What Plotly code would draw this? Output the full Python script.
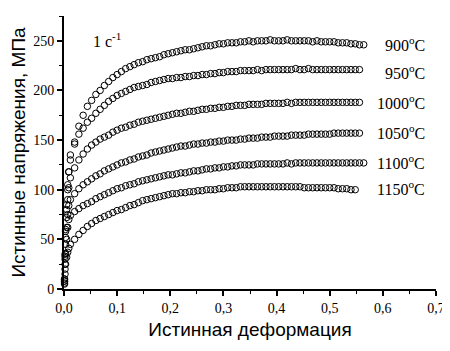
import plotly.graph_objects as go

# ---- data ----
strain = [0.012, 0.020, 0.028, 0.036, 0.044, 0.052, 0.060, 0.068, 0.076, 0.084,
          0.092, 0.100, 0.108, 0.116, 0.124, 0.132, 0.140, 0.148, 0.156, 0.164,
          0.172, 0.180, 0.188, 0.196, 0.204, 0.212, 0.220, 0.228, 0.236, 0.244,
          0.252, 0.260, 0.268, 0.276, 0.284, 0.292, 0.300, 0.308, 0.316, 0.324,
          0.332, 0.340, 0.348, 0.356, 0.364, 0.372, 0.380, 0.388, 0.396, 0.404,
          0.412, 0.420, 0.428, 0.436, 0.444, 0.452, 0.460, 0.468, 0.476, 0.484,
          0.492, 0.500, 0.508, 0.516, 0.524, 0.532, 0.540, 0.548, 0.556, 0.564]

start_strain = [0.001, 0.002, 0.003, 0.005, 0.007, 0.009]

start_900 = [10, 35, 60, 85, 105, 118]
start_950 = [10, 33, 58, 80, 100, 118]
start_1000 = [8, 30, 52, 72, 90, 102]
start_1050 = [8, 25, 45, 62, 75, 84]
start_1100 = [6, 20, 36, 50, 62, 70]
start_1150 = [5, 15, 25, 32, 37, 41]

stress_900 = [130, 148, 164, 175, 184, 190, 196, 200, 205, 209,
              213, 216, 219, 222, 224, 226, 228, 229, 231, 232,
              233, 234, 236, 237, 238, 239, 240, 241, 241, 242,
              243, 244, 245, 245, 246, 247, 247, 248, 248, 248,
              249, 249, 250, 249, 250, 250, 250, 251, 250, 250,
              250, 251, 250, 250, 250, 250, 250, 249, 250, 249,
              249, 249, 249, 248, 248, 248, 247, 247, 246, 246]
stress_950 = [135, 146, 156, 162, 168, 172, 177, 181, 185, 189,
              192, 195, 197, 199, 201, 203, 204, 205, 206, 208,
              209, 210, 211, 212, 212, 213, 213, 214, 214, 215,
              215, 216, 216, 217, 217, 218, 218, 219, 219, 219,
              220, 220, 220, 220, 221, 220, 221, 221, 221, 221,
              221, 221, 221, 222, 221, 221, 222, 221, 221, 221,
              221, 221, 221, 221, 221, 221, 221, 221, 221, None]
stress_1000 = [112, 122, 130, 136, 141, 145, 148, 151, 153, 155,
               158, 160, 162, 163, 165, 166, 168, 169, 170, 171,
               172, 173, 174, 175, 176, 177, 177, 178, 179, 179,
               180, 181, 181, 182, 182, 183, 183, 184, 184, 185,
               185, 185, 186, 186, 186, 186, 187, 187, 187, 187,
               187, 188, 187, 188, 188, 188, 188, 188, 188, 188,
               188, 188, 188, 188, 188, 188, 188, 188, 188, None]
stress_1050 = [90, 96, 101, 105, 108, 111, 114, 116, 119, 121,
               123, 125, 127, 128, 130, 131, 133, 134, 135, 137,
               138, 139, 140, 141, 142, 143, 144, 144, 145, 146,
               146, 147, 147, 148, 148, 149, 149, 150, 150, 150,
               151, 151, 152, 152, 152, 153, 153, 153, 154, 154,
               154, 154, 155, 155, 155, 155, 156, 156, 156, 156,
               156, 156, 157, 157, 157, 157, 157, 157, 157, None]
stress_1100 = [74, 78, 81, 84, 86, 88, 91, 93, 95, 97,
               99, 101, 102, 104, 105, 106, 108, 109, 110, 111,
               112, 113, 114, 115, 115, 116, 117, 117, 118, 119,
               119, 120, 121, 121, 122, 122, 123, 123, 124, 124,
               125, 125, 125, 125, 126, 126, 126, 126, 126, 126,
               126, 127, 126, 127, 127, 127, 127, 127, 127, 127,
               127, 127, 127, 127, 127, 127, 127, 127, 127, 127]
stress_1150 = [45, 50, 55, 59, 63, 66, 69, 71, 73, 75,
               77, 79, 80, 82, 84, 85, 87, 89, 90, 91,
               92, 93, 94, 95, 96, 96, 97, 97, 98, 98,
               99, 99, 100, 100, 100, 101, 101, 102, 102, 102,
               103, 103, 103, 103, 103, 103, 103, 103, 103, 103,
               103, 103, 103, 103, 103, 102, 102, 102, 102, 102,
               102, 102, 102, 101, 101, 101, 100, 100, None, None]

temp_labels = ["900<sup>o</sup>C", "950<sup>o</sup>C", "1000<sup>o</sup>C",
               "1050<sup>o</sup>C", "1100<sup>o</sup>C", "1150<sup>o</sup>C"]

x_ticks = [0.0, 0.1, 0.2, 0.3, 0.4, 0.5, 0.6, 0.7]
x_ticklabels = ["0,0", "0,1", "0,2", "0,3", "0,4", "0,5", "0,6", "0,7"]
y_ticks = [0, 50, 100, 150, 200, 250]

series = [
    (start_900, stress_900),
    (start_950, stress_950),
    (start_1000, stress_1000),
    (start_1050, stress_1050),
    (start_1100, stress_1100),
    (start_1150, stress_1150),
]

# ---- figure ----
fig = go.Figure()
for (st, sv), name in zip(series, temp_labels):
    fig.add_trace(go.Scatter(
        x=start_strain + strain,
        y=st + sv,
        mode="markers",
        name=name,
        marker=dict(symbol="circle-open", size=6.5, color="black",
                    line=dict(width=1, color="black")),
        showlegend=False,
        cliponaxis=False,
    ))

serif = "Liberation Serif, Times New Roman, serif"
sans = "Liberation Sans, Arial, sans-serif"

label_y = [247, 219, 188.5, 158, 128, 102]
annotations = []
for txt, yy in zip(temp_labels, label_y):
    annotations.append(dict(x=0.683, y=yy, xref="x", yref="y", text=txt,
                            showarrow=False, xanchor="right", yanchor="middle",
                            font=dict(family=serif, size=16, color="black")))
annotations.append(dict(x=0.05, y=251, xref="x", yref="y",
                        text="1 c<sup>-1</sup>", showarrow=False,
                        xanchor="left", yanchor="middle",
                        font=dict(family=serif, size=16, color="black")))

# The page body has an 8px margin, so the figure is sized to fit the window
fig.update_layout(
    width=442, height=343,
    margin=dict(l=56, r=14, t=8, b=62),
    paper_bgcolor="white", plot_bgcolor="white",
    annotations=annotations,
    xaxis=dict(
        range=[0, 0.7], tickmode="array", tickvals=x_ticks, ticktext=x_ticklabels,
        automargin=False,
        showgrid=False, zeroline=False, showline=True, linecolor="black", linewidth=2,
        ticks="outside", ticklen=5, tickwidth=1.5, tickcolor="black",
        minor=dict(ticks="outside", ticklen=3, tickwidth=1, tickcolor="black", dtick=0.05, showgrid=False),
        tickfont=dict(family=serif, size=14, color="black"),
        title=dict(text="Истинная деформация", font=dict(family=sans, size=19, color="black"), standoff=8),
    ),
    yaxis=dict(
        range=[0, 275], tickmode="array", tickvals=y_ticks,
        automargin=False,
        showgrid=False, zeroline=False, showline=True, linecolor="black", linewidth=2,
        ticks="outside", ticklen=5, tickwidth=1.5, tickcolor="black",
        minor=dict(ticks="outside", ticklen=3, tickwidth=1, tickcolor="black", dtick=25, showgrid=False),
        tickfont=dict(family=serif, size=14, color="black"),
        title=dict(text="Истинные напряжения, МПа", font=dict(family=sans, size=19, color="black"), standoff=10),
    ),
)

fig.write_html("out.html")
